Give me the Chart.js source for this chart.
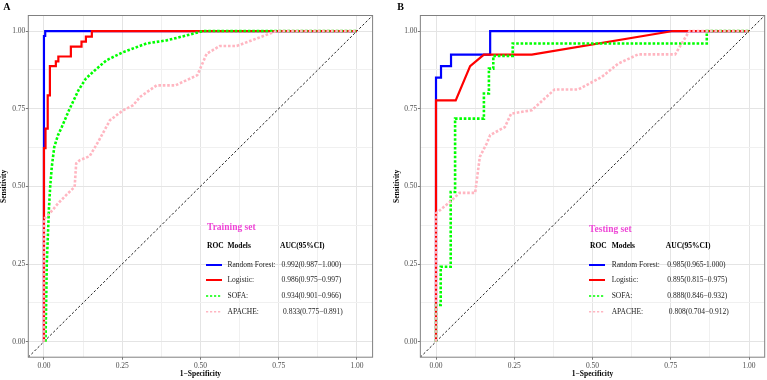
<!DOCTYPE html>
<html>
<head>
<meta charset="utf-8">
<script src="https://cdn.jsdelivr.net/npm/chart.js@4.4.1/dist/chart.umd.min.js"></script>
<style>
  body { margin: 0; background: #fff; }
  canvas { position: absolute; top: 0; }
  #rocA { left: 0; }
  #rocB { left: 383px; }
</style>
</head>
<body>
<canvas id="rocA" width="383" height="380"></canvas>
<canvas id="rocB" width="384" height="380"></canvas>
<script>
// Panel A - training set
const trainRfX = [0, 0, 0.004, 0.004, 0.151, 1];
const trainRfY = [0, 0.984, 0.984, 1, 1, 1];
const trainLogX = [0, 0, 0.005, 0.005, 0.012, 0.012, 0.019, 0.019, 0.038, 0.038, 0.046, 0.046, 0.086, 0.086, 0.12, 0.12, 0.134, 0.134, 0.153, 0.153, 1];
const trainLogY = [0, 0.623, 0.623, 0.686, 0.686, 0.793, 0.793, 0.887, 0.887, 0.902, 0.902, 0.918, 0.918, 0.95, 0.95, 0.966, 0.966, 0.982, 0.982, 1, 1];
const trainSofaX = [0.005, 0.009, 0.016, 0.02, 0.025, 0.033, 0.045, 0.057, 0.08, 0.11, 0.134, 0.163, 0.2, 0.253, 0.328, 0.392, 0.456, 0.509, 1];
const trainSofaY = [0, 0.25, 0.43, 0.5, 0.562, 0.627, 0.665, 0.691, 0.745, 0.809, 0.847, 0.874, 0.906, 0.932, 0.96, 0.97, 0.986, 1, 1];
const trainApacheX = [0, 0, 0.016, 0.045, 0.077, 0.098, 0.103, 0.114, 0.146, 0.173, 0.211, 0.253, 0.285, 0.307, 0.36, 0.42, 0.49, 0.504, 0.52, 0.562, 0.616, 0.68, 0.743, 1];
const trainApacheY = [0, 0.395, 0.41, 0.445, 0.478, 0.498, 0.574, 0.584, 0.597, 0.643, 0.713, 0.745, 0.761, 0.788, 0.825, 0.825, 0.858, 0.89, 0.927, 0.952, 0.952, 0.976, 1, 1];

// Panel B - testing set
const testRfX = [0, 0, 0.016, 0.016, 0.048, 0.048, 0.173, 0.173, 1];
const testRfY = [0, 0.85, 0.85, 0.887, 0.887, 0.924, 0.924, 1, 1];
const testLogX = [0, 0, 0.063, 0.109, 0.153, 0.306, 0.757, 1];
const testLogY = [0, 0.777, 0.777, 0.887, 0.924, 0.924, 1, 1];
const testSofaX = [0, 0, 0.015, 0.015, 0.047, 0.047, 0.061, 0.061, 0.153, 0.153, 0.169, 0.169, 0.183, 0.183, 0.245, 0.245, 0.865, 0.865, 1];
const testSofaY = [0, 0.118, 0.118, 0.241, 0.241, 0.482, 0.482, 0.718, 0.718, 0.799, 0.799, 0.879, 0.879, 0.92, 0.92, 0.96, 0.96, 1, 1];
const testApacheX = [0, 0, 0.045, 0.075, 0.125, 0.14, 0.162, 0.173, 0.22, 0.24, 0.306, 0.379, 0.455, 0.529, 0.582, 0.646, 0.764, 0.806, 0.81, 1];
const testApacheY = [0, 0.413, 0.45, 0.479, 0.479, 0.595, 0.638, 0.665, 0.691, 0.734, 0.745, 0.812, 0.812, 0.852, 0.895, 0.925, 0.925, 0.995, 1, 1];

const refLine = [-0.05, 1.05];

const tickValues = [0, 0.125, 0.25, 0.375, 0.5, 0.625, 0.75, 0.875, 1];
const majorTicks = [0, 0.25, 0.5, 0.75, 1];

const modelNames = ['Random Forest:', 'Logistic:', 'SOFA:', 'APACHE:'];
const trainAuc = ['0.992(0.987\u22121.000)', '0.986(0.975\u22120.997)', '0.934(0.901\u22120.966)', '0.833(0.775\u22120.891)'];
const testAuc = ['0.985(0.965-1.000)', '0.895(0.815\u22120.975)', '0.888(0.846\u22120.932)', '0.808(0.704\u22120.912)'];

const modelColors = ['#0000FF', '#FF0000', '#00FF00', '#FFB6C1'];
const serif = '"Liberation Serif", "Times New Roman", serif';

function toPoints(xs, ys) {
    return xs.map((x, i) => ({ x: x, y: ys[i] }));
}

function isMajor(v) {
    return majorTicks.some(m => Math.abs(m - v) < 1e-6);
}

function curve(label, xs, ys, idx, order) {
    const dotted = idx >= 2;
    return {
        label: label,
        data: toPoints(xs, ys),
        showLine: true,
        borderColor: modelColors[idx],
        borderWidth: dotted ? 2.6 : 2.2,
        borderDash: dotted ? [2.6, 1.8] : [],
        borderCapStyle: 'butt',
        pointRadius: 0,
        tension: 0,
        order: order
    };
}

// box round the panel, letter and the inside legend
const panelDecor = {
    id: 'panelDecor',
    afterDraw(chart, args, opts) {
        const ctx = chart.ctx;
        const a = chart.chartArea;
        ctx.save();
        ctx.strokeStyle = '#808080';
        ctx.lineWidth = 1;
        ctx.setLineDash([]);
        ctx.strokeRect(a.left, a.top, a.right - a.left, a.bottom - a.top);

        ctx.fillStyle = '#000';
        ctx.textBaseline = 'middle';
        ctx.textAlign = 'left';
        ctx.font = 'bold 10px ' + serif;
        ctx.fillText(opts.letter, opts.letterX, 7);

        const L = opts.legend;
        ctx.fillStyle = '#EE46D6';
        ctx.font = 'bold 9.5px ' + serif;
        ctx.fillText(L.title, L.titleX, L.titleY);

        ctx.fillStyle = '#000';
        ctx.font = 'bold 7.5px ' + serif;
        ctx.fillText('ROC', L.sampleX, L.headY);
        ctx.fillText('Models', L.labelX, L.headY);
        ctx.fillText('AUC(95%CI)', L.valueX - 1.5, L.headY);

        for (let i = 0; i < modelNames.length; i++) {
            const y = L.rowY[i];
            const dotted = i >= 2;
            ctx.strokeStyle = modelColors[i];
            ctx.lineWidth = dotted ? 1.6 : 2;
            ctx.setLineDash(dotted ? [2.2, 1.8] : []);
            ctx.beginPath();
            ctx.moveTo(L.sampleX - 1, y);
            ctx.lineTo(L.sampleX + 15, y);
            ctx.stroke();
            ctx.setLineDash([]);
            ctx.fillStyle = '#222';
            ctx.font = '7.5px ' + serif;
            ctx.fillText(modelNames[i], L.labelX, y);
            ctx.fillText(L.values[i], L.valueX + (i === 3 ? 1.5 : 0), y);
        }
        ctx.restore();
    }
};

function axisOptions(title, isY, axisWidth, titlePad) {
    const opts = {
        type: 'linear',
        min: -0.05,
        max: 1.05,
        afterBuildTicks(scale) {
            scale.ticks = tickValues.map(v => ({ value: v }));
        },
        ticks: {
            autoSkip: false,
            maxRotation: 0,
            padding: isY ? 0.5 : 1.5,
            color: '#4D4D4D',
            font: { family: serif, size: 7.5 },
            callback: v => isMajor(v) ? v.toFixed(2) : ''
        },
        grid: {
            color: ctx => isMajor(ctx.tick.value) ? '#E4E4E4' : '#F0F0F0',
            lineWidth: 1,
            tickLength: 2.5,
            tickColor: ctx => isMajor(ctx.tick.value) ? '#555555' : 'rgba(0,0,0,0)',
            tickWidth: 0.8
        },
        border: { display: false },
        title: {
            display: true,
            text: title,
            color: '#000',
            font: { family: serif, size: 7.5, weight: 'bold', lineHeight: 1 },
            padding: isY ? { top: titlePad, bottom: 0 } : { top: 0, bottom: titlePad }
        }
    };
    if (isY) {
        opts.afterFit = scale => { scale.width = axisWidth; };
    } else {
        opts.afterFit = scale => { scale.height = axisWidth; };
    }
    return opts;
}

function rocChart(id, sets, panel) {
    const datasets = [
        curve('Random Forest', sets[0], sets[1], 0, 4),
        curve('Logistic', sets[2], sets[3], 1, 3),
        curve('SOFA', sets[4], sets[5], 2, 2),
        curve('APACHE', sets[6], sets[7], 3, 1),
        {
            label: 'reference',
            data: toPoints(refLine, refLine),
            showLine: true,
            borderColor: '#222222',
            borderWidth: 1,
            borderDash: [2.4, 2],
            pointRadius: 0,
            order: 5
        }
    ];

    return new Chart(document.getElementById(id), {
        type: 'scatter',
        data: { datasets: datasets },
        options: {
            responsive: false,
            animation: false,
            layout: { padding: { top: 15.5, right: panel.padRight, bottom: 0, left: 0 } },
            scales: {
                x: axisOptions('1\u2212Specificity', false, 22.8, 2),
                y: axisOptions('Sensitivity', true, panel.yWidth, panel.yTitlePad)
            },
            plugins: {
                legend: { display: false },
                tooltip: { enabled: false },
                panelDecor: {
                    letter: panel.letter,
                    letterX: panel.letterX,
                    legend: panel.legend
                }
            }
        },
        plugins: [panelDecor]
    });
}

rocChart('rocA',
    [trainRfX, trainRfY, trainLogX, trainLogY, trainSofaX, trainSofaY, trainApacheX, trainApacheY],
    {
        letter: 'A', letterX: 3.3, padRight: 10.4, yWidth: 28.3, yTitlePad: 0.3,
        legend: {
            title: 'Training set', titleX: 207, titleY: 228,
            headY: 246, sampleX: 207, labelX: 227.5, valueX: 281.5,
            rowY: [265, 280, 296, 311.7], values: trainAuc
        }
    });

rocChart('rocB',
    [testRfX, testRfY, testLogX, testLogY, testSofaX, testSofaY, testApacheX, testApacheY],
    {
        letter: 'B', letterX: 14.3, padRight: 2.3, yWidth: 37.35, yTitlePad: 10,
        legend: {
            title: 'Testing set', titleX: 206, titleY: 230,
            headY: 246, sampleX: 207, labelX: 228.7, valueX: 284.3,
            rowY: [265, 280, 296, 311.7], values: testAuc
        }
    });
</script>
</body>
</html>
